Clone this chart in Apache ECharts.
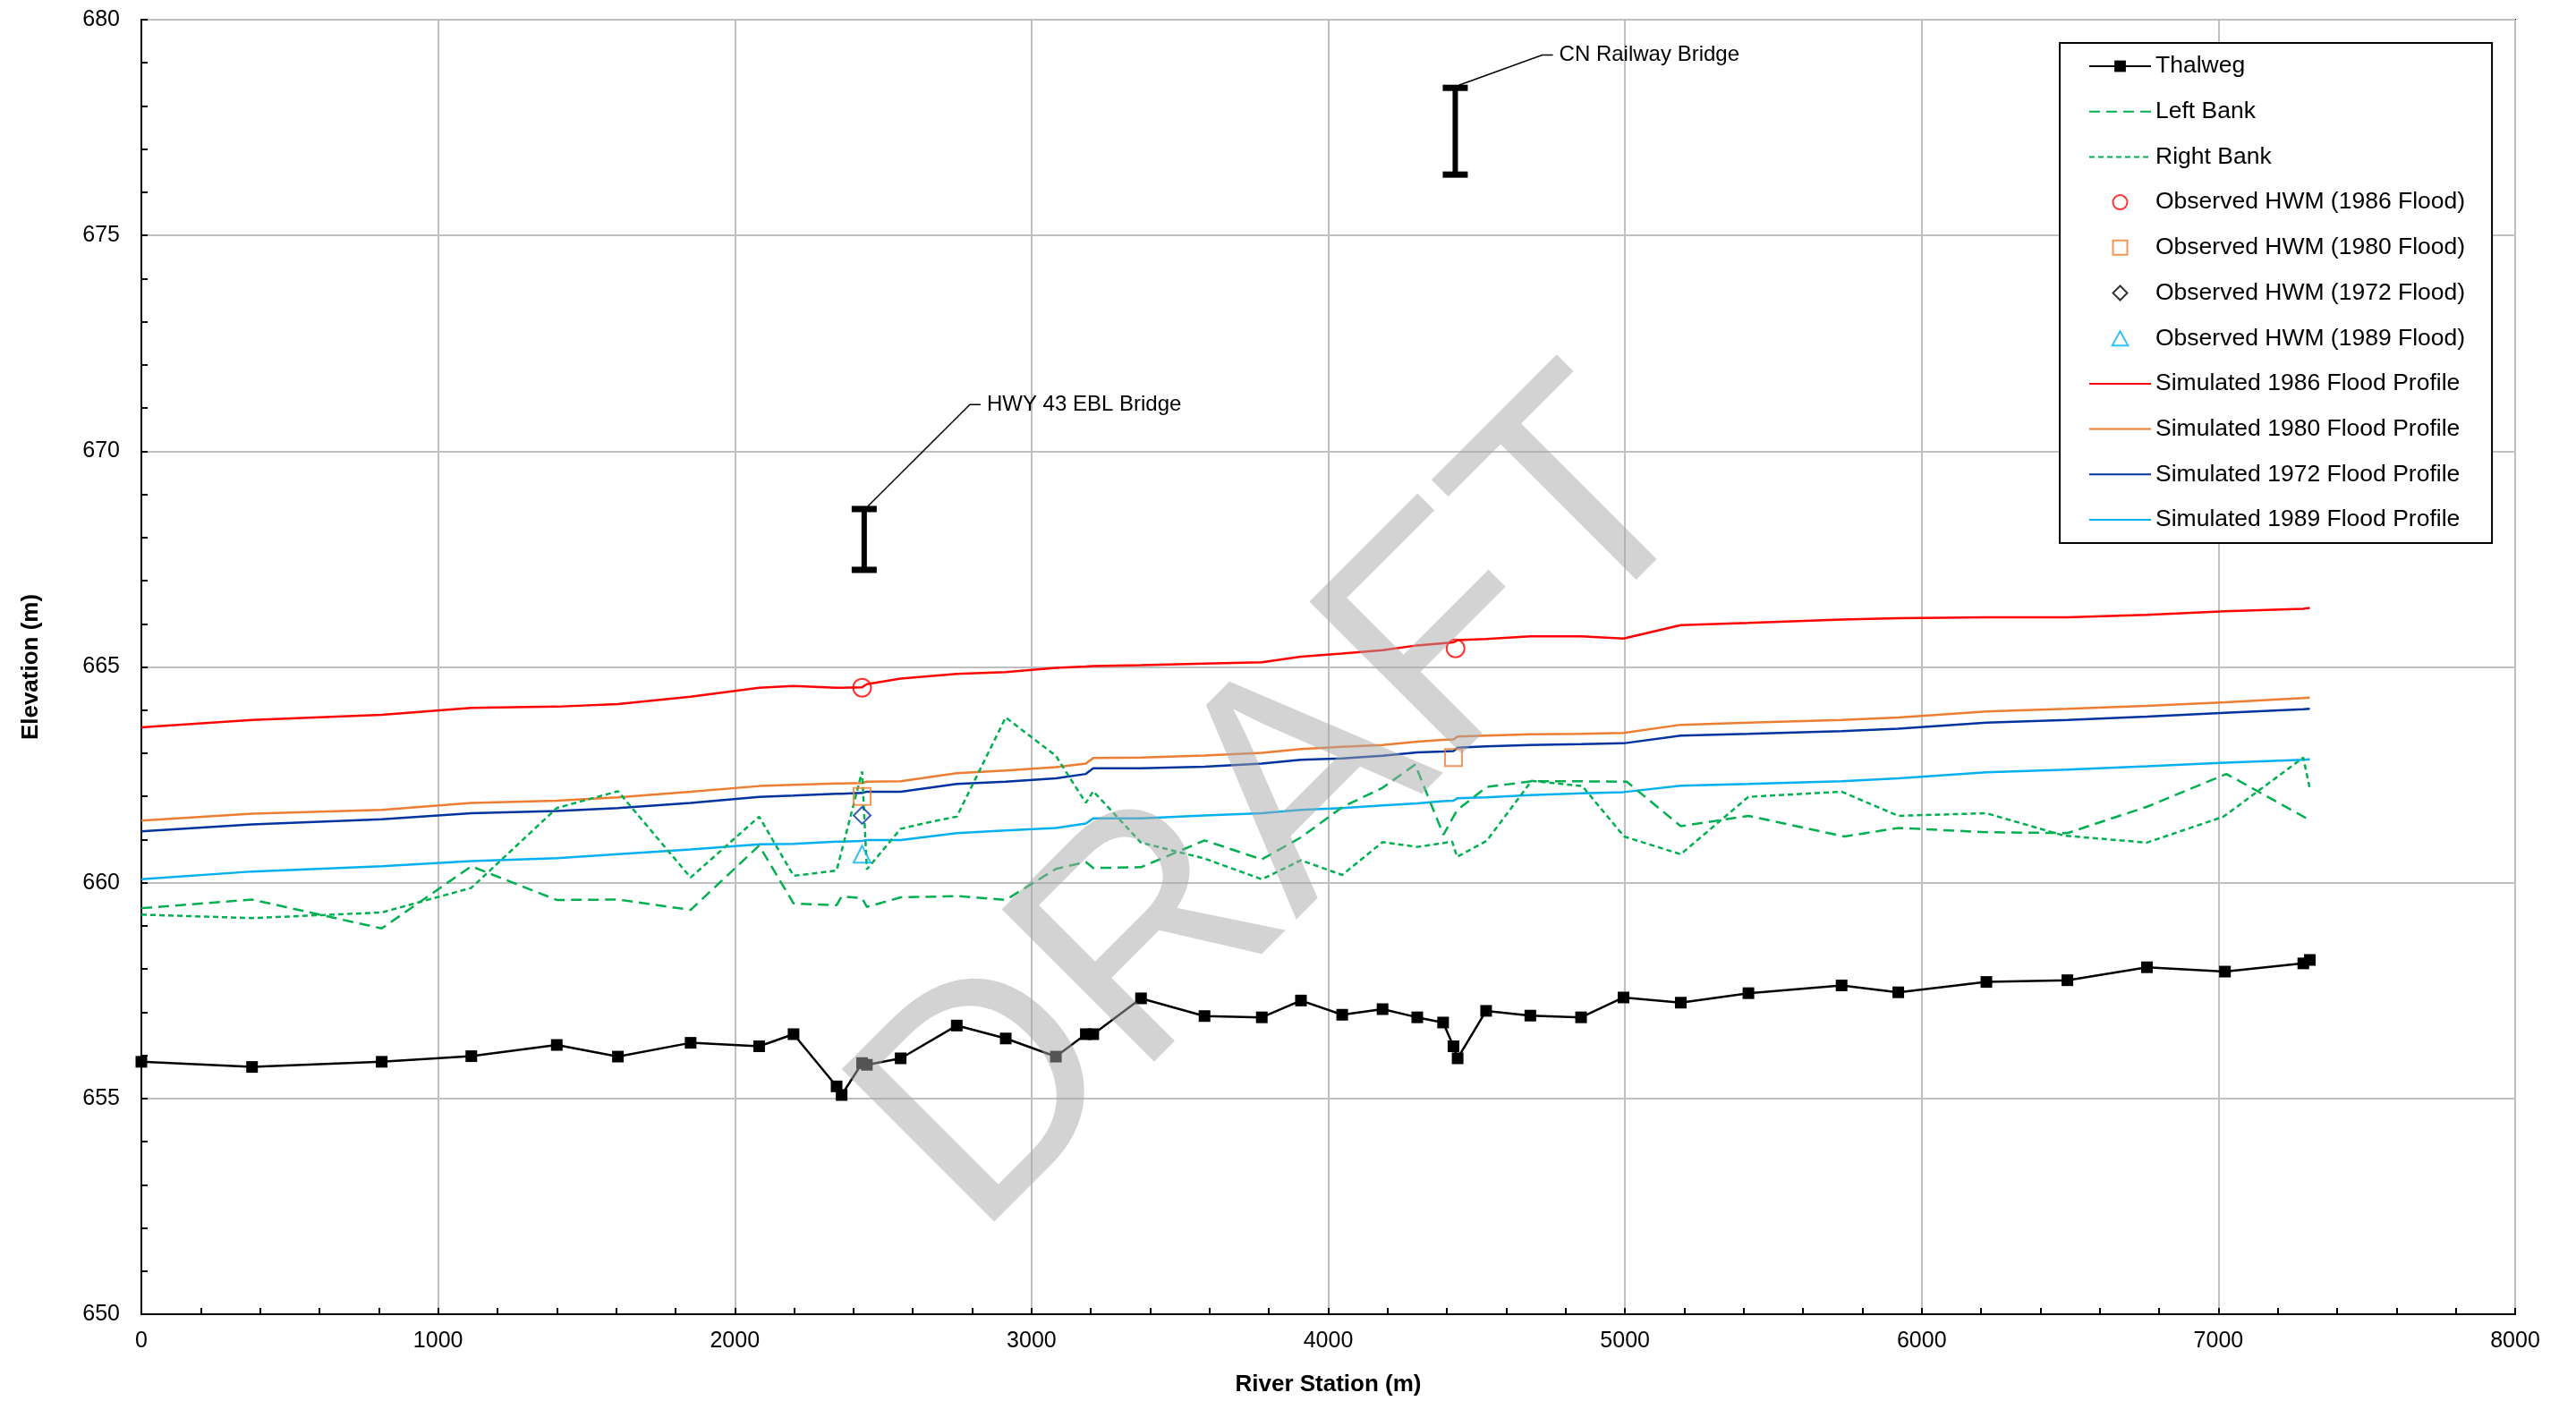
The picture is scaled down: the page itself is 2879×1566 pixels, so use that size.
<!DOCTYPE html>
<html><head><meta charset="utf-8">
<script src="https://cdn.jsdelivr.net/npm/echarts@6/dist/echarts.min.js"></script>
<style>html,body{margin:0;padding:0;background:#fff}#c{width:2879px;height:1566px}</style>
</head><body><div id="c"></div>
<script>
// ---- Data ----
const stations = [0, 373, 810, 1112, 1400, 1606, 1851, 2082, 2198, 2343, 2360, 2429, 2445, 2559, 2748, 2913, 3082, 3183, 3208, 3369, 3583, 3776, 3908, 4047, 4183, 4300, 4387, 4422, 4436, 4532, 4681, 4852, 4995, 5188, 5416, 5730, 5921, 6218, 6491, 6759, 7022, 7286, 7308];
const thalweg = [655.85, 655.73, 655.85, 655.98, 656.24, 655.97, 656.29, 656.21, 656.49, 655.28, 655.08, 655.82, 655.78, 655.93, 656.69, 656.39, 655.97, 656.49, 656.49, 657.32, 656.91, 656.88, 657.27, 656.94, 657.07, 656.88, 656.76, 656.21, 655.93, 657.03, 656.92, 656.88, 657.34, 657.22, 657.44, 657.62, 657.46, 657.70, 657.74, 658.04, 657.94, 658.13, 658.21];
const sim1986 = [663.60, 663.77, 663.89, 664.05, 664.08, 664.14, 664.31, 664.52, 664.56, 664.52, 664.52, 664.53, 664.60, 664.73, 664.84, 664.88, 664.98, 665.01, 665.02, 665.04, 665.08, 665.11, 665.24, 665.31, 665.39, 665.50, 665.55, 665.57, 665.62, 665.65, 665.71, 665.71, 665.66, 665.97, 666.02, 666.10, 666.13, 666.15, 666.15, 666.21, 666.29, 666.35, 666.37];
const sim1980 = [661.44, 661.60, 661.69, 661.85, 661.90, 661.98, 662.11, 662.24, 662.27, 662.30, 662.30, 662.31, 662.34, 662.35, 662.54, 662.60, 662.68, 662.76, 662.89, 662.90, 662.95, 663.01, 663.10, 663.15, 663.19, 663.27, 663.31, 663.32, 663.39, 663.41, 663.44, 663.45, 663.47, 663.66, 663.71, 663.77, 663.83, 663.97, 664.03, 664.10, 664.18, 664.28, 664.29];
const sim1972 = [661.19, 661.35, 661.47, 661.61, 661.66, 661.73, 661.85, 661.99, 662.02, 662.06, 662.06, 662.08, 662.11, 662.11, 662.29, 662.34, 662.42, 662.52, 662.65, 662.65, 662.69, 662.76, 662.85, 662.88, 662.94, 663.02, 663.04, 663.05, 663.13, 663.16, 663.19, 663.21, 663.23, 663.41, 663.45, 663.51, 663.57, 663.71, 663.77, 663.85, 663.94, 664.02, 664.03];
const sim1989 = [660.08, 660.26, 660.38, 660.50, 660.57, 660.66, 660.77, 660.89, 660.90, 660.95, 660.95, 660.97, 660.99, 660.99, 661.15, 661.21, 661.27, 661.37, 661.49, 661.49, 661.56, 661.61, 661.69, 661.73, 661.79, 661.84, 661.89, 661.90, 661.96, 661.98, 662.03, 662.07, 662.10, 662.25, 662.29, 662.35, 662.42, 662.56, 662.62, 662.70, 662.78, 662.85, 662.86];

const leftBankStations = [0, 373, 810, 1112, 1400, 1606, 1851, 2082, 2198, 2343, 2360, 2429, 2445, 2559, 2748, 2913, 3082, 3183, 3208, 3369, 3583, 3776, 3908, 4047, 4183, 4293, 4388, 4434, 4534, 4685, 4852, 5006, 5188, 5416, 5740, 5921, 6218, 6491, 6759, 7027, 7308];
const leftBankElev = [659.41, 659.61, 658.94, 660.38, 659.60, 659.61, 659.37, 660.86, 659.52, 659.48, 659.68, 659.64, 659.44, 659.66, 659.69, 659.60, 660.32, 660.48, 660.34, 660.36, 660.98, 660.54, 661.05, 661.75, 662.20, 662.74, 661.11, 661.68, 662.22, 662.35, 662.35, 662.34, 661.31, 661.55, 661.07, 661.27, 661.17, 661.15, 661.76, 662.52, 661.45];
const rightBankStations = [0, 373, 810, 1112, 1400, 1606, 1851, 2082, 2198, 2343, 2429, 2445, 2559, 2660, 2748, 2913, 3082, 3183, 3208, 3369, 3583, 3776, 3908, 4047, 4183, 4300, 4418, 4434, 4534, 4685, 4856, 4997, 5188, 5416, 5730, 5921, 6218, 6480, 6759, 7017, 7286, 7308];
const rightBankElev = [659.26, 659.18, 659.31, 659.88, 661.73, 662.12, 660.12, 661.53, 660.16, 660.28, 662.58, 660.31, 661.25, 661.41, 661.53, 663.83, 662.94, 661.85, 662.12, 660.93, 660.56, 660.08, 660.52, 660.18, 660.94, 660.83, 660.95, 660.60, 660.97, 662.36, 662.24, 661.07, 660.66, 661.99, 662.11, 661.55, 661.61, 661.09, 660.93, 661.53, 662.90, 662.18];

const hwm1986Stations = [2429, 4429];
const hwm1986Elev = [664.52, 665.43];
const hwm1980Stations = [2429, 4422];
const hwm1980Elev = [662.00, 662.90];
const hwm1972Stations = [2429];
const hwm1972Elev = [661.56];
const hwm1989Stations = [2429];
const hwm1989Elev = [660.66];

const bridgeNames = ['HWY 43 EBL Bridge', 'CN Railway Bridge'];
const bridgeStations = [2436, 4428];
const bridgeLow = [667.25, 676.41];
const bridgeHigh = [668.66, 678.42];

const xTicks = [0, 1000, 2000, 3000, 4000, 5000, 6000, 7000, 8000];
const yTicks = [650, 655, 660, 665, 670, 675, 680];

// ---- annotation placement (leader line elbow, in axis units) ----
const leaderElbow = [[2792, 671.08], [4721, 679.18]];

const pairs = (xs, ys) => xs.map((x, i) => [x, ys[i]]);
const FONT = '"Liberation Sans", Arial, sans-serif';
const GREEN = '#00b050';
const NOSYM = {color: 'rgba(0,0,0,0)', borderWidth: 0, opacity: 0};
const ICON_RECT = 'path://M0,0L10,0L10,10L0,10Z';
const ICON_DIAMOND = 'path://M5,0L10,5L5,10L0,5Z';
const ICON_TRIANGLE = 'path://M5,0L10,9L0,9Z';

const chart = echarts.init(document.getElementById('c'), null, {renderer: 'canvas'});
const option = {
  animation: false,
  backgroundColor: '#ffffff',
  textStyle: {fontFamily: FONT, color: '#000'},
  grid: {left: 158, right: 68, top: 22, bottom: 97, show: true, borderColor: '#000', borderWidth: 2, backgroundColor: 'transparent'},
  xAxis: {
    type: 'value', min: xTicks[0], max: xTicks[xTicks.length - 1], interval: 1000,
    name: 'River Station (m)', nameLocation: 'middle', nameGap: 66,
    nameTextStyle: {fontSize: 26, fontWeight: 'bold', color: '#000', fontFamily: FONT},
    axisLine: {show: true, lineStyle: {color: '#000', width: 2}},
    axisTick: {show: true, inside: true, length: 7, lineStyle: {color: '#000', width: 2}},
    minorTick: {show: true, splitNumber: 5, length: 7, lineStyle: {color: '#000', width: 2}},
    axisLabel: {fontSize: 25, color: '#000', margin: 18, fontFamily: FONT, formatter: v => String(v)},
    splitLine: {show: true, lineStyle: {color: '#bfbfbf', width: 2}}
  },
  yAxis: {
    type: 'value', min: yTicks[0], max: yTicks[yTicks.length - 1], interval: 5,
    name: 'Elevation (m)', nameLocation: 'middle', nameGap: 110, nameRotate: 90,
    nameTextStyle: {fontSize: 26, fontWeight: 'bold', color: '#000', fontFamily: FONT},
    axisLine: {show: true, lineStyle: {color: '#000', width: 2}},
    axisTick: {show: true, inside: true, length: 7, lineStyle: {color: '#000', width: 2}},
    minorTick: {show: true, splitNumber: 5, length: 7, lineStyle: {color: '#000', width: 2}},
    axisLabel: {fontSize: 25, color: '#000', margin: 24, fontFamily: FONT, formatter: v => String(v)},
    splitLine: {show: true, lineStyle: {color: '#bfbfbf', width: 2}}
  },
  legend: {
    orient: 'vertical', left: 2302, top: 48,
    padding: [11, 30, 11, 32],
    backgroundColor: '#fff', borderColor: '#000', borderWidth: 2,
    itemWidth: 69, itemHeight: 16, itemGap: 20.7,
    symbolKeepAspect: true,
    textStyle: {fontSize: 26.5, color: '#000', lineHeight: 30, fontFamily: FONT},
    data: [
      'Thalweg',
      {name: 'Left Bank', itemStyle: NOSYM},
      {name: 'Right Bank', itemStyle: NOSYM},
      {name: 'Observed HWM (1986 Flood)', icon: 'circle'},
      {name: 'Observed HWM (1980 Flood)', icon: ICON_RECT},
      {name: 'Observed HWM (1972 Flood)', icon: ICON_DIAMOND, itemStyle: {borderColor: '#000'}},
      {name: 'Observed HWM (1989 Flood)', icon: ICON_TRIANGLE},
      {name: 'Simulated 1986 Flood Profile', itemStyle: NOSYM},
      {name: 'Simulated 1980 Flood Profile', itemStyle: NOSYM},
      {name: 'Simulated 1972 Flood Profile', itemStyle: NOSYM},
      {name: 'Simulated 1989 Flood Profile', itemStyle: NOSYM}
    ]
  },
  graphic: [{
    type: 'text', x: 1435, y: 905, rotation: Math.PI / 4, z: 100, silent: true,
    style: {text: 'DRAFT', font: '350px "Liberation Sans", Arial, sans-serif', fill: 'rgba(168,168,168,0.5)', align: 'center', verticalAlign: 'middle'}
  }],
  series: [
    {name: 'Simulated 1989 Flood Profile', type: 'line', data: pairs(stations, sim1989), symbol: 'none', lineStyle: {color: '#00b0f0', width: 2.5}, itemStyle: {color: '#00b0f0'}, z: 3},
    {name: 'Simulated 1972 Flood Profile', type: 'line', data: pairs(stations, sim1972), symbol: 'none', lineStyle: {color: '#0033a0', width: 2.5}, itemStyle: {color: '#0033a0'}, z: 3},
    {name: 'Simulated 1980 Flood Profile', type: 'line', data: pairs(stations, sim1980), symbol: 'none', lineStyle: {color: '#ed7d31', width: 2.5}, itemStyle: {color: '#ed7d31'}, z: 3},
    {name: 'Simulated 1986 Flood Profile', type: 'line', data: pairs(stations, sim1986), symbol: 'none', lineStyle: {color: '#ff0000', width: 2.5}, itemStyle: {color: '#ff0000'}, z: 3},
    {name: 'Left Bank', type: 'line', data: pairs(leftBankStations, leftBankElev), symbol: 'none', lineStyle: {color: GREEN, width: 2.5, type: [12, 7]}, itemStyle: {color: GREEN}, z: 4},
    {name: 'Right Bank', type: 'line', data: pairs(rightBankStations, rightBankElev), symbol: 'none', lineStyle: {color: GREEN, width: 2.5, type: [6, 4]}, itemStyle: {color: GREEN}, z: 4},
    {name: 'Thalweg', type: 'line', data: pairs(stations, thalweg), symbol: 'rect', symbolSize: 13, lineStyle: {color: '#000', width: 2.5}, itemStyle: {color: '#000'}, z: 5},
    {name: 'Observed HWM (1986 Flood)', type: 'scatter', data: pairs(hwm1986Stations, hwm1986Elev), symbol: 'circle', symbolSize: 20, itemStyle: {color: 'rgba(255,255,255,0)', borderColor: '#ff0000', borderWidth: 2}, z: 6},
    {name: 'Observed HWM (1980 Flood)', type: 'scatter', data: pairs(hwm1980Stations, hwm1980Elev), symbol: 'rect', symbolSize: 19, itemStyle: {color: 'rgba(255,255,255,0)', borderColor: '#ed7d31', borderWidth: 2}, z: 6},
    {name: 'Observed HWM (1972 Flood)', type: 'scatter', data: pairs(hwm1972Stations, hwm1972Elev), symbol: 'diamond', symbolSize: 19, itemStyle: {color: 'rgba(255,255,255,0)', borderColor: '#0033a0', borderWidth: 2}, z: 6},
    {name: 'Observed HWM (1989 Flood)', type: 'scatter', data: pairs(hwm1989Stations, hwm1989Elev), symbol: 'triangle', symbolSize: 19, itemStyle: {color: 'rgba(255,255,255,0)', borderColor: '#00b0f0', borderWidth: 2}, z: 6},
    {
      name: 'Bridges', type: 'custom', coordinateSystem: 'cartesian2d', silent: true, z: 7, clip: false,
      data: bridgeStations.map((s, i) => [s, bridgeLow[i], bridgeHigh[i], i]),
      encode: {x: 0, y: [1, 2]},
      renderItem: function (params, api) {
        const i = api.value(3);
        const top = api.coord([api.value(0), api.value(2)]);
        const bot = api.coord([api.value(0), api.value(1)]);
        const elbow = api.coord(leaderElbow[i]);
        return {
          type: 'group', children: [
            {type: 'line', shape: {x1: top[0], y1: top[1], x2: bot[0], y2: bot[1]}, style: {stroke: '#000', lineWidth: 6}},
            {type: 'rect', shape: {x: top[0] - 14, y: top[1] - 3.5, width: 28, height: 7}, style: {fill: '#000'}},
            {type: 'rect', shape: {x: bot[0] - 14, y: bot[1] - 3.5, width: 28, height: 7}, style: {fill: '#000'}},
            {type: 'polyline', shape: {points: [[top[0] + 4, top[1] - 3], elbow, [elbow[0] + 12, elbow[1]]]}, style: {stroke: '#000', lineWidth: 1.5, fill: null}},
            {type: 'text', style: {text: bridgeNames[i], x: elbow[0] + 19, y: elbow[1], verticalAlign: 'middle', align: 'left', font: '24px "Liberation Sans", Arial, sans-serif', fill: '#000'}}
          ]
        };
      }
    }
  ]
};
chart.setOption(option);
</script>
</body></html>
